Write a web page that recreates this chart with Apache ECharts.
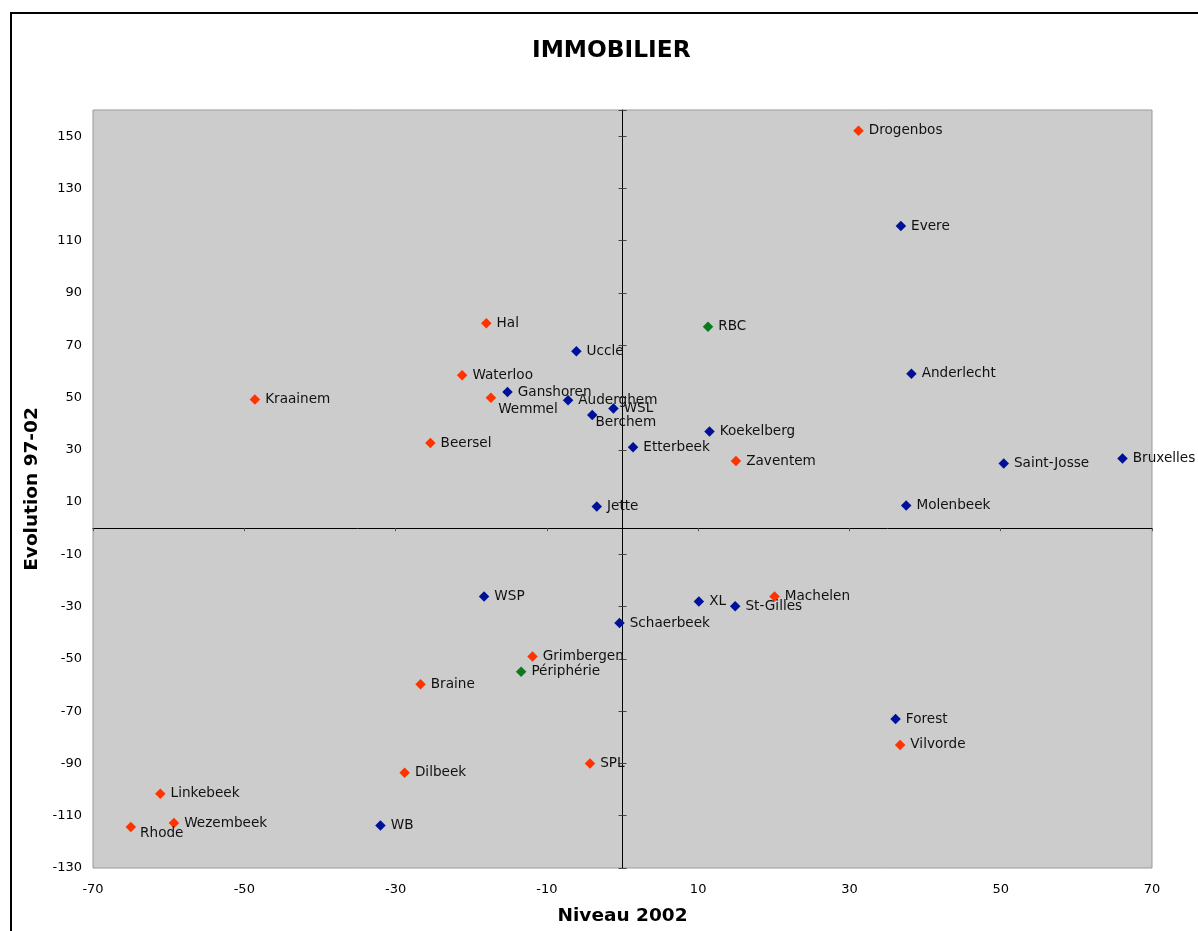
<!DOCTYPE html>
<html><head><meta charset="utf-8">
<script src="https://cdn.jsdelivr.net/npm/echarts@6/dist/echarts.min.js"></script>
<style>html,body{margin:0;padding:0;background:#fff}#c{width:1198px;height:931px}</style>
</head><body><div id="c"></div><script>
// ---- data ----
const chartTitle = 'IMMOBILIER';
const xTitle = 'Niveau 2002';
const yTitle = 'Evolution 97-02';

// Brussels communes (blue)
const blueNames = ['Evere','Uccle','Anderlecht','Ganshoren','Auderghem','WSL','Berchem','Koekelberg','Etterbeek','Bruxelles','Saint-Josse','Molenbeek','Jette','WSP','XL','St-Gilles','Schaerbeek','Forest','WB'];
const blueX = [36.8, -6.1, 38.2, -15.2, -7.2, -1.2, -4.0, 11.5, 1.4, 66.1, 50.4, 37.5, -3.4, -18.3, 10.1, 14.9, -0.4, 36.1, -32.0];
const blueY = [115.6, 67.7, 59.1, 52.1, 49.0, 45.8, 43.3, 37.0, 31.0, 26.7, 24.8, 8.7, 8.3, -26.1, -28.0, -29.9, -36.3, -73.0, -113.7];

// Periphery communes (red)
const redNames = ['Drogenbos','Hal','Waterloo','Kraainem','Wemmel','Beersel','Zaventem','Machelen','Grimbergen','Braine','Vilvorde','SPL','Dilbeek','Linkebeek','Wezembeek','Rhode'];
const redX = [31.2, -18.0, -21.2, -48.6, -17.4, -25.4, 15.0, 20.1, -11.9, -26.7, 36.7, -4.3, -28.8, -61.1, -59.3, -65.0];
const redY = [152.1, 78.4, 58.5, 49.2, 49.9, 32.6, 25.7, -26.1, -49.1, -59.7, -82.9, -90.0, -93.6, -101.6, -112.8, -114.3];

// Aggregates (green)
const greenNames = ['RBC','Périphérie'];
const greenX = [11.3, -13.4];
const greenY = [77.1, -54.9];

// axis scales
const xMin = -70, xMax = 70, xStep = 20;
const yMin = -130, yMax = 160, yStep = 20;

// label nudges (pixels) for a few overlapping labels
const labelNudge = { 'Rhode': [-1, 7], 'Wemmel': [-3, 12], 'Berchem': [-7, 7] };

const FONT = '"DejaVu Sans", Verdana, sans-serif';

function build(names, xs, ys) {
  return names.map((n, i) => {
    const item = { name: n, value: [xs[i], ys[i]] };
    if (labelNudge[n]) item.label = { offset: labelNudge[n] };
    return item;
  });
}

function mkSeries(name, color, names, xs, ys) {
  return {
    name: name, type: 'scatter', xAxisIndex: 0, yAxisIndex: 0,
    symbol: 'diamond', symbolSize: 10.5,
    itemStyle: { color: color, opacity: 1 },
    label: { show: true, position: 'right', distance: 5, formatter: '{b}',
             color: '#111', fontSize: 13.6, fontFamily: FONT },
    emphasis: { disabled: true },
    data: build(names, xs, ys), z: 5
  };
}

const baseX = { type: 'value', min: xMin, max: xMax, interval: xStep, position: 'bottom', splitLine: { show: false } };
const baseY = { type: 'value', min: yMin, max: yMax, interval: yStep, position: 'left', splitLine: { show: false } };

const chart = echarts.init(document.getElementById('c'), null, { renderer: 'canvas' });
chart.setOption({
  animation: false,
  backgroundColor: '#fff',
  textStyle: { fontFamily: FONT },
  title: { text: chartTitle, left: 527, top: 34,
           textStyle: { fontSize: 23.3, fontWeight: 'bold', color: '#000', fontFamily: FONT } },
  graphic: [{ type: 'rect', shape: { x: 11, y: 13, width: 1200, height: 1000 },
              style: { fill: 'none', stroke: '#000', lineWidth: 2 }, z: -1, silent: true }],
  grid: { left: 93, top: 110, right: 46, bottom: 63, show: true,
          backgroundColor: '#cccccc', borderColor: '#999', borderWidth: 1,
          containLabel: false, outerBoundsMode: 'none' },
  xAxis: [
    Object.assign({}, baseX, {
      axisLine: { show: false, onZero: false }, axisTick: { show: false },
      axisLabel: { fontSize: 13, color: '#000', margin: 15, fontFamily: FONT },
      name: xTitle, nameLocation: 'middle', nameGap: 39, nameMoveOverlap: false,
      nameTextStyle: { fontSize: 18.5, fontWeight: 'bold', color: '#000', fontFamily: FONT }
    }),
    Object.assign({}, baseX, {
      axisLine: { show: true, onZero: true, onZeroAxisIndex: 0, lineStyle: { color: '#000', width: 1 } },
      axisTick: { show: true, length: 3, inside: false, lineStyle: { color: '#555' } },
      axisLabel: { show: false }
    })
  ],
  yAxis: [
    Object.assign({}, baseY, {
      axisLine: { show: false, onZero: false }, axisTick: { show: false },
      axisLabel: { fontSize: 13, color: '#000', margin: 11, showMaxLabel: false, fontFamily: FONT },
      name: yTitle, nameLocation: 'middle', nameGap: 51, nameRotate: 90, nameMoveOverlap: false,
      nameTextStyle: { fontSize: 18.5, fontWeight: 'bold', color: '#000', fontFamily: FONT }
    }),
    Object.assign({}, baseY, {
      axisLine: { show: true, onZero: true, onZeroAxisIndex: 0, lineStyle: { color: '#000', width: 1 } },
      axisTick: { show: true, length: 4, inside: false, lineStyle: { color: '#444' } },
      axisLabel: { show: false }
    }),
    Object.assign({}, baseY, {
      axisLine: { show: false, onZero: true, onZeroAxisIndex: 0 },
      axisTick: { show: true, length: 4, inside: true, lineStyle: { color: '#444' } },
      axisLabel: { show: false }
    })
  ],
  series: [
    mkSeries('Bruxelles', '#001199', blueNames, blueX, blueY),
    mkSeries('Périphérie', '#ff3300', redNames, redX, redY),
    mkSeries('Agrégats', '#0a7a1e', greenNames, greenX, greenY)
  ]
});
</script></body></html>
